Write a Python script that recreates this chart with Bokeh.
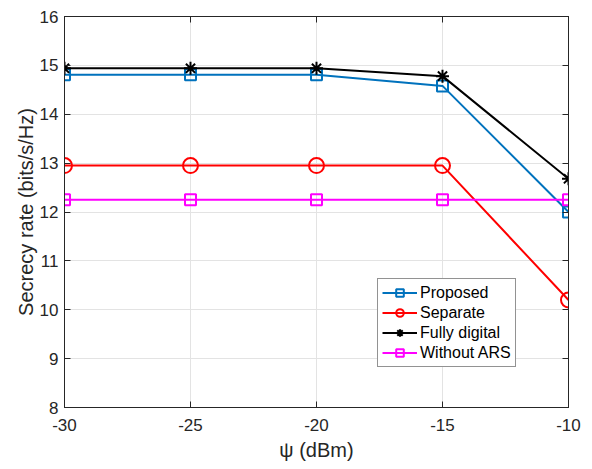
from bokeh.plotting import figure
from bokeh.models import LinearAxis, Legend, LegendItem, FixedTicker, Range1d
from bokeh.embed import file_html
from bokeh.resources import INLINE

psi = [-30, -25, -20, -15, -10]
proposed = [14.81, 14.81, 14.81, 14.58, 12.0]
separate = [12.95, 12.95, 12.95, 12.95, 10.2]
fully_digital = [14.94, 14.94, 14.94, 14.78, 12.68]
without_ars = [12.25, 12.25, 12.25, 12.25, 12.25]

x_ticks = [-30, -25, -20, -15, -10]
y_ticks = [8, 9, 10, 11, 12, 13, 14, 15, 16]

FONT = "Liberation Sans"
TXT = "#262626"

p = figure(width=581, height=463, output_backend="svg", toolbar_location=None,
           x_range=Range1d(-30, -10), y_range=Range1d(8, 16),
           min_border_left=64, min_border_right=13, min_border_top=16, min_border_bottom=52)
p.background_fill_color = "white"
p.border_fill_color = "white"
p.outline_line_color = TXT
p.outline_line_width = 1

for ax in (p.xaxis[0], p.yaxis[0]):
    ax.major_tick_in = 6
    ax.major_tick_out = 0
    ax.minor_tick_in = 0
    ax.minor_tick_out = 0
    ax.axis_line_color = TXT
    ax.major_tick_line_color = TXT
    ax.major_label_text_font = FONT
    ax.major_label_text_font_size = "17px"
    ax.major_label_text_color = TXT
    ax.axis_label_text_font = FONT
    ax.axis_label_text_font_size = "20px"
    ax.axis_label_text_font_style = "normal"
    ax.axis_label_text_color = TXT

p.xaxis.ticker = FixedTicker(ticks=x_ticks)
p.yaxis.ticker = FixedTicker(ticks=y_ticks)
p.xaxis.major_label_overrides = {t: str(t) for t in x_ticks}
p.xaxis.major_label_standoff = 11
p.xaxis.axis_label = "ψ (dBm)"
p.xaxis.axis_label_standoff = 5
p.yaxis.major_label_standoff = 6
p.yaxis.axis_label = "Secrecy rate (bits/s/Hz)"
p.yaxis.axis_label_standoff = 0

# mirrored axes (box), no labels
right = LinearAxis(ticker=FixedTicker(ticks=y_ticks), major_tick_in=6, major_tick_out=0,
                   minor_tick_in=0, minor_tick_out=0,
                   major_label_overrides={t: "" for t in y_ticks},
                   axis_line_color=TXT, major_tick_line_color=TXT)
top = LinearAxis(ticker=FixedTicker(ticks=x_ticks), major_tick_in=6, major_tick_out=0,
                 minor_tick_in=0, minor_tick_out=0,
                 major_label_overrides={t: "" for t in x_ticks},
                 axis_line_color=TXT, major_tick_line_color=TXT)
p.add_layout(right, "right")
p.add_layout(top, "above")

p.xgrid.ticker = FixedTicker(ticks=x_ticks)
p.ygrid.ticker = FixedTicker(ticks=y_ticks)
p.grid.grid_line_color = "#e3e3e3"
p.grid.grid_line_width = 1

series = [
    ("Proposed", proposed, "#0072BD", "square", 11),
    ("Separate", separate, "#FF0000", "circle", 15),
    ("Fully digital", fully_digital, "#000000", "asterisk", 13),
    ("Without ARS", without_ars, "#FF00FF", "square", 11),
]
items = []
for name, ys, col, mk, sz in series:
    ln = p.line(psi, ys, line_color=col, line_width=2)
    sc = p.scatter(psi, ys, marker=mk, size=sz, line_color=col, fill_color=None, line_width=2)
    items.append(LegendItem(label=name, renderers=[ln, sc]))

legend = Legend(items=items, location=(313, 40))
legend.label_text_font = FONT
legend.label_text_font_size = "16px"
legend.label_text_color = "#000000"
legend.glyph_width = 35
legend.glyph_height = 19
legend.label_height = 19
legend.spacing = 1
legend.padding = 4
legend.margin = 0
legend.label_standoff = 3
legend.border_line_color = TXT
legend.border_line_width = 1
legend.background_fill_color = "white"
legend.background_fill_alpha = 1
p.add_layout(legend, "center")

open("out.html", "w").write(file_html(p, INLINE))
